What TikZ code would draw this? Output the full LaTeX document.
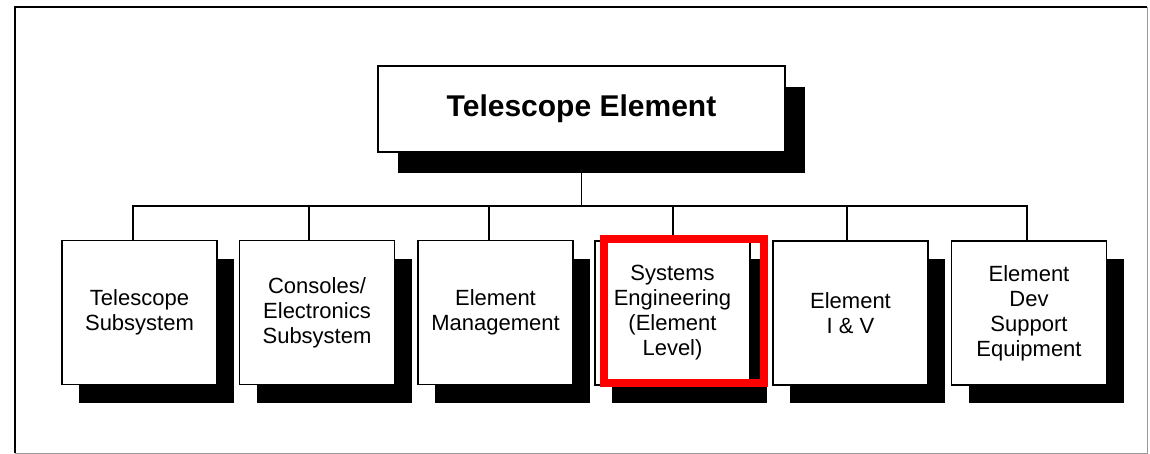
\documentclass[tikz,border=0pt]{standalone}
\usepackage{fontspec}
\setmainfont{Liberation Sans}
\usetikzlibrary{shadows}
\begin{document}
\begin{tikzpicture}[x=1pt,y=-1pt,
  unitbox/.style={draw=black, line width=1.8pt, fill=white, inner sep=0pt,
    minimum width=155pt, minimum height=144pt, align=center,
    font=\fontsize{22}{25}\selectfont,
    general shadow={shadow xshift=17pt, shadow yshift=-18pt, fill=black}},
  headbox/.style={draw=black, line width=1.8pt, fill=white, inner sep=0pt,
    minimum width=407pt, minimum height=86pt,
    font=\fontsize{30}{34}\selectfont\bfseries,
    general shadow={shadow xshift=20pt, shadow yshift=-21pt, fill=black}},
  link/.style={draw=black, line width=1.8pt},
  mark box/.style={draw=red, line width=8pt, inner sep=0pt,
    minimum width=160pt, minimum height=144pt}]
\useasboundingbox (0,0) rectangle (1150,454);
\fill[white] (0,0) rectangle (1150,454);

% outer frame
\draw[black!40, line width=1pt] (1147,7) -- (1147,453) -- (15,453);
\draw[black, line width=2.5pt] (15,453) -- (15,7) -- (1147,7);

% head of the breakdown
\node[headbox] (top) at (581.5,109) {Telescope Element};

% second-level elements
\node[unitbox] (b1) at (139.5,312.5) {Telescope\\Subsystem};
\node[unitbox] (b2) at (317,312.5) {Consoles/\\Electronics\\Subsystem};
\node[unitbox] (b3) at (495.5,312.5) {Element\\Management};
\node[unitbox] (b4) at (672.5,313) {Systems\\Engineering\\(Element\\Level)};
\node[unitbox] (b5) at (850.5,313) {Element\\I \& V};
\node[unitbox] (b6) at (1029,313) {Element\\Dev\\Support\\Equipment};

% connector tree (drops sit a little left of the box centres)
\coordinate (bar) at (581.5,206);
\draw[link] (top.south) -- (bar);
\draw[link] ([xshift=-6.5pt]b1.north) |- (bar) -| ([xshift=-2pt]b6.north);
\foreach \b/\dx in {b2/-8, b3/-6.5, b4/0.5, b5/-3.5}
  \draw[link] ([xshift=\dx pt]\b.north) -- ([xshift=\dx pt]\b.north |- bar);

% highlight frame
\node[mark box] (hl) at (684,311) {};
\end{tikzpicture}
\end{document}
